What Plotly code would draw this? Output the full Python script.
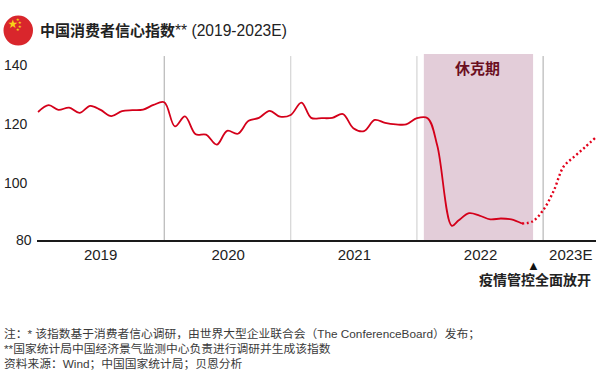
import plotly.graph_objects as go
import pandas as pd

W, H = 599, 370
L, R, T, B = 37, 3, 54, 129.5

dates_actual = [d.strftime("%Y-%m-%d") for d in pd.date_range("2019-01-01", "2022-11-01", freq="MS")]
dates_actual[39] = "2022-04-12"
values_actual = [123.5, 125.8, 124.2, 125.0, 123.2, 125.6, 124.2, 122.1, 123.8, 124.1, 124.3, 125.9,
                 126.8, 118.6, 122.0, 115.9, 115.8, 112.4, 117.1, 116.1, 120.5, 121.5, 123.9, 121.9,
                 122.5, 126.7, 121.5, 121.4, 121.5, 122.8, 118.0, 117.0, 120.8, 119.8, 119.3, 119.3,
                 121.4, 121.4, 112.0, 84.8, 86.6, 89.1, 88.3, 87.0, 87.3, 87.0, 85.6]
dates_forecast = [d.strftime("%Y-%m-%d") for d in pd.date_range("2022-11-01", "2023-06-01", freq="MS")]
values_forecast = [85.6, 86.3, 90.1, 96.8, 104.9, 108.3, 111.4, 114.7]

y_ticks = [140, 120, 100]
year_ticks = ["2019-07-01", "2020-07-04", "2021-07-04", "2022-07-04", "2023-03-22"]
year_labels = ["2019", "2020", "2021", "2022", "2023E"]
year_lines = ["2020-01-01", "2021-01-01", "2022-01-01", "2023-01-01"]
year_line_colors = ["#a8a8a8", "#cccccc", "#cccccc", "#a8a8a8"]
shock_span = ["2022-01-21", "2022-12-03"]

FONT = "Liberation Sans, Arial, Noto Sans CJK SC, sans-serif"
px = lambda v: (v - L) / (W - L - R)
py = lambda v: 1 - (v - T) / (H - T - B)

fig = go.Figure()
fig.add_trace(go.Scatter(x=dates_actual, y=values_actual, mode="lines",
                         line=dict(color="#d4001a", width=1.8, shape="spline", smoothing=1),
                         hoverinfo="skip", showlegend=False))
fig.add_trace(go.Scatter(x=dates_forecast, y=values_forecast, mode="lines",
                         line=dict(color="#e2001a", width=2.4, shape="spline", smoothing=1, dash="2px,2.6px"),
                         hoverinfo="skip", showlegend=False))

shapes = [dict(type="rect", xref="x", yref="y", x0=shock_span[0], x1=shock_span[1], y0=80, y1=143.2,
               fillcolor="#e3cdd9", line_width=0, layer="below")]
for d, c in zip(year_lines, year_line_colors):
    shapes.append(dict(type="line", xref="x", yref="y", x0=d, x1=d, y0=80, y1=142.5,
                       line=dict(color=c, width=1), layer="below"))
shapes.append(dict(type="circle", xref="paper", yref="paper", x0=px(3.5), x1=px(33), y0=py(45.5), y1=py(15.5),
                   fillcolor="#d9262c", line_width=0))

ann = []
def text(x, y, s, size=12, color="#222222", anchor="left", **kw):
    ann.append(dict(xref="paper", yref="paper", x=px(x), y=py(y), text=s, showarrow=False,
                    xanchor=anchor, yanchor="middle", align="left",
                    font=dict(family=FONT, size=size, color=color), **kw))

text(37.5, 30, "<b>中国消费者信心指数</b><span style='font-size:15.6px'>** (2019-2023E)</span>", 15, "#222222")
for t, yy in zip(y_ticks, [65, 124.5, 183]):
    text(1.5, yy, str(t), 14)
text(13.5, 241, "80", 14)
text(477, 69, "<b>休克期</b>", 15, "#6b0f1f", "center")
text(533.5, 266, "▲", 13, "#111111", "center")
text(535, 280.5, "<b>疫情管控全面放开</b>", 14, "#222222", "center")
text(1.5, 334.5, "注：* 该指数基于消费者信心调研，由世界大型企业联合会（The ConferenceBoard）发布；", 11.75, "#3a3a3a")
text(1.5, 349, "**国家统计局中国经济景气监测中心负责进行调研并生成该指数", 11.75, "#3a3a3a")
text(1.5, 364, "资料来源：Wind；中国国家统计局；贝恩分析", 11.75, "#3a3a3a")
text(12.5, 23, "★", 9.5, "#f7d417", "center")
for sx, sy in [(18, 19), (20, 22), (20, 26), (18, 29)]:
    text(sx, sy, "★", 3.5, "#f7d417", "center")

fig.update_layout(
    width=W, height=H, autosize=False, paper_bgcolor="white", plot_bgcolor="white",
    margin=dict(l=L, r=R, t=T, b=B, pad=0),
    shapes=shapes, annotations=ann, showlegend=False,
    font=dict(family=FONT, color="#222222"),
    xaxis=dict(type="date", range=["2018-12-29", "2023-06-03"], tickmode="array",
               tickvals=year_ticks, ticktext=year_labels, ticks="", showgrid=False, zeroline=False,
               showline=True, linecolor="#1a1a1a", linewidth=2, tickfont=dict(size=15, family=FONT, color="#222222"),
               ticklabelstandoff=0, automargin=False, ticklabelmode="instant"),
    yaxis=dict(range=[80, 143.2], tickvals=[], showgrid=False, zeroline=False, showline=False, automargin=False),
)
fig.write_html("out.html", config=dict(displayModeBar=False),
               post_script="document.documentElement.style.margin='0';document.body.style.margin='0';document.body.style.overflow='hidden';")
